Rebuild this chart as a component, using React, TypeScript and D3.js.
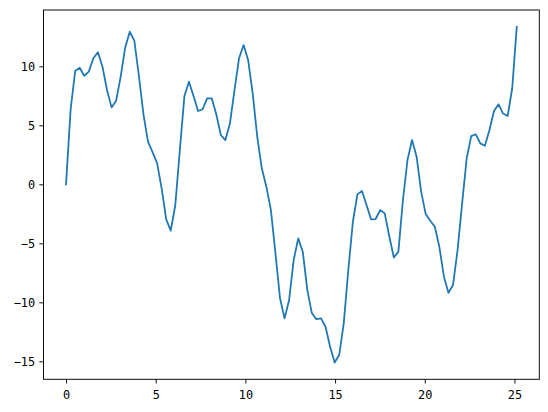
import React, { useEffect, useRef } from 'react';
import * as d3 from 'd3';

// sample grid: 100 evenly spaced points on [0, 8π]
const xStart = 0;
const xEnd = 25.13;
const yValues = [
  0, 6.3, 9.6, 9.88, 9.2, 9.55, 10.68, 11.19, 9.97, 7.99,
  6.52, 7.09, 9.12, 11.6, 12.93, 12.17, 9.2, 5.95, 3.61, 2.72,
  1.8, -0.34, -2.97, -3.93, -1.75, 2.91, 7.48, 8.7, 7.48, 6.21,
  6.36, 7.29, 7.29, 5.93, 4.18, 3.75, 5.17, 7.99, 10.68, 11.8,
  10.53, 7.71, 4.03, 1.36, -0.2, -2.18, -5.85, -9.66, -11.36, -9.8,
  -6.42, -4.58, -5.71, -8.96, -10.93, -11.42, -11.36, -12.07, -13.76, -15.1,
  -14.47, -11.78, -7.26, -3.17, -0.85, -0.57, -1.75, -2.97, -2.94, -2.18,
  -2.46, -4.4, -6.2, -5.7, -1.33, 2.06, 3.75, 2.34, -0.62, -2.52,
  -3.08, -3.59, -5.3, -7.83, -9.19, -8.53, -5.57, -1.61, 2.2, 4.09,
  4.24, 3.47, 3.27, 4.6, 6.21, 6.78, 6.0, 5.79, 8.14, 13.35,
];
const xTicks = [0, 5, 10, 15, 20, 25];
const yTicks = [-15, -10, -5, 0, 5, 10];

const width = 548;
const height = 412;

export default function App() {
  const svgRef = useRef<SVGSVGElement>(null);

  useEffect(() => {
    if (!svgRef.current) return;
    const svg = d3.select(svgRef.current);
    svg.selectAll('*').remove();

    const left = 43.5, right = 539.3, top = 10, bottom = 379.3;
    const n = yValues.length;
    const data = yValues.map((y, i) => ({ x: xStart + (i * (xEnd - xStart)) / (n - 1), y }));

    const [xMin, xMax] = d3.extent(data, d => d.x) as [number, number];
    const [yMin, yMax] = d3.extent(data, d => d.y) as [number, number];
    const xPad = (xMax - xMin) * 0.05;
    const yPad = (yMax - yMin) * 0.05;

    const xScale = d3.scaleLinear().domain([xMin - xPad, xMax + xPad]).range([left, right]);
    const yScale = d3.scaleLinear().domain([yMin - yPad, yMax + yPad]).range([bottom, top]);

    const font = "'DejaVu Sans Mono', monospace";
    const tickLen = 4.16;

    // Line
    const line = d3.line<{ x: number; y: number }>()
      .x(d => xScale(d.x))
      .y(d => yScale(d.y));

    svg.append('path')
      .datum(data)
      .attr('d', line)
      .attr('fill', 'none')
      .attr('stroke', '#1f77b4')
      .attr('stroke-width', 1.78)
      .attr('stroke-linejoin', 'round')
      .attr('stroke-linecap', 'square');

    // X axis
    const xAxis = svg.append('g')
      .attr('transform', `translate(0,${bottom})`)
      .call(d3.axisBottom(xScale).tickValues(xTicks).tickSize(tickLen).tickPadding(tickLen).tickFormat(d3.format('d')));
    xAxis.select('.domain').remove();
    xAxis.selectAll('line').attr('stroke', '#000').attr('stroke-width', 0.95);
    xAxis.selectAll('text')
      .attr('dy', '0.93em')
      .attr('fill', '#000')
      .style('font-family', font)
      .style('font-size', '11.9px');

    // Y axis
    const yAxis = svg.append('g')
      .attr('transform', `translate(${left},0)`)
      .call(d3.axisLeft(yScale).tickValues(yTicks).tickSize(tickLen).tickPadding(tickLen).tickFormat(d => `${d}`.replace('-', '\u2212')));
    yAxis.select('.domain').remove();
    yAxis.selectAll('line').attr('stroke', '#000').attr('stroke-width', 0.95);
    yAxis.selectAll('text')
      .attr('dy', '0.36em')
      .attr('fill', '#000')
      .style('font-family', font)
      .style('font-size', '11.9px');

    // Frame
    svg.append('rect')
      .attr('x', left)
      .attr('y', top)
      .attr('width', right - left)
      .attr('height', bottom - top)
      .attr('fill', 'none')
      .attr('stroke', '#000')
      .attr('stroke-width', 0.95);
  }, []);

  return (
    <svg
      ref={svgRef}
      width={width}
      height={height}
      style={{ position: 'absolute', left: 0, top: 0, background: '#fff' }}
    />
  );
}
